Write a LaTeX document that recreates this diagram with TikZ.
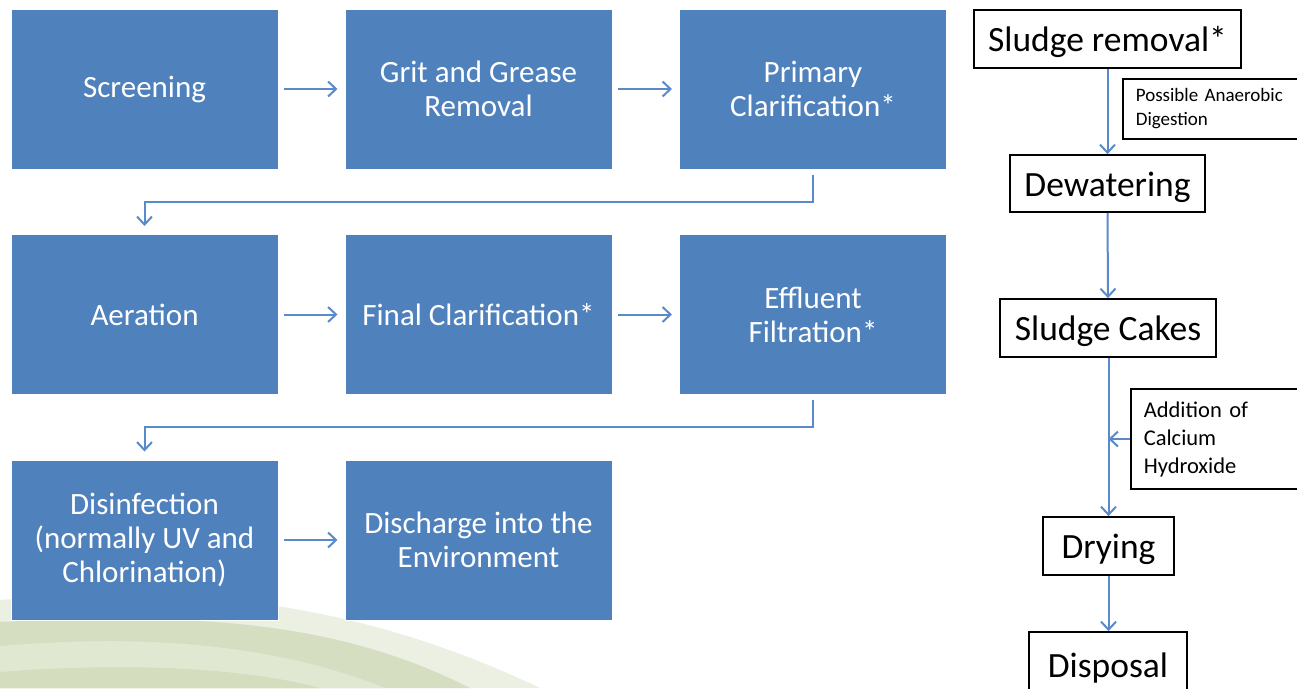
\documentclass[tikz,border=0pt]{standalone}
\usepackage{fontspec}
\setmainfont{Carlito}
\usetikzlibrary{arrows.meta,calc}
\definecolor{boxblue}{HTML}{4F81BD}
\definecolor{arrblue}{HTML}{5A8ACB}
\definecolor{gP}{HTML}{ECF0E2}
\definecolor{gD}{HTML}{D6DEC1}
\definecolor{gL}{HTML}{E1E8D2}
\definecolor{gB}{HTML}{D4DDBD}
\tikzset{
  bluebox/.style={rectangle,fill=boxblue,draw=white,line width=1pt,text=white,
    font=\fontsize{31}{34}\selectfont,align=center,minimum width=267,minimum height=160,inner sep=0pt},
  blackbox/.style={rectangle,draw=black,line width=1.8pt,fill=white,text=black,
    font=\fontsize{35.5}{40}\selectfont,inner sep=0pt,text height=30pt,text depth=5pt},
  notebox/.style={rectangle,draw=black,line width=1.6pt,fill=white,text=black,align=left,inner xsep=13pt,inner ysep=0pt},
  barr/.style={draw=arrblue,line width=2pt,-{Straight Barb[length=8pt,width=15pt,line width=2pt]}}
}
\begin{document}
\begin{tikzpicture}[x=1pt,y=-1pt]
\useasboundingbox (0,0) rectangle (1297,688);
\fill[white] (0,0) rectangle (1297,688);
% background swoosh
\fill[gP] (0,600) .. controls (150,588) and (330,588) .. (540,688) -- (0,688) -- cycle;
\fill[gD] (0,622) .. controls (200,612) and (340,622) .. (470,688) -- (0,688) -- cycle;
\fill[gL] (0,646) .. controls (120,636) and (260,638) .. (385,688) -- (0,688) -- cycle;
\fill[gB] (0,672) .. controls (100,664) and (230,664) .. (320,688) -- (0,688) -- cycle;
% blue boxes
\node[bluebox] (scr) at (144.5,89) {Screening};
\node[bluebox] (grit) at (478.5,89) {Grit and Grease\\Removal};
\node[bluebox] (prim) at (813,89) {Primary\\Clarification*};
\node[bluebox] (aer) at (144.5,314.5) {Aeration};
\node[bluebox] (fin) at (478.5,314.5) {Final Clarification*};
\node[bluebox] (eff) at (813,314.5) {Effluent\\Filtration*};
\node[bluebox] (dis) at (144.5,540) {Disinfection\\(normally UV and\\Chlorination)};
\node[bluebox] (env) at (478.5,540) {Discharge into the\\Environment};
% blue arrows
\draw[barr] ($(scr.east)+(5,0)$) -- ($(grit.west)+(-7,0)$);
\draw[barr] ($(grit.east)+(5,0)$) -- ($(prim.west)+(-7,0)$);
\draw[barr] ($(aer.east)+(5,0)$) -- ($(fin.west)+(-7,0)$);
\draw[barr] ($(fin.east)+(5,0)$) -- ($(eff.west)+(-7,0)$);
\draw[barr] ($(dis.east)+(5,0)$) -- ($(env.west)+(-7,0)$);
\draw[barr] ($(prim.south)+(0,5)$) -- ++(0,27) -| ($(aer.north)+(0,-8)$);
\draw[barr] ($(eff.south)+(0,5)$) -- ++(0,27) -| ($(dis.north)+(0,-8)$);
% right column
\node[blackbox,minimum width=267,minimum height=58] (srem) at (1107.5,39) {Sludge removal*};
\node[blackbox,minimum width=195,minimum height=57] (dew) at (1107.5,183.5) {Dewatering};
\node[blackbox,minimum width=216,minimum height=58] (cake) at (1108,328) {Sludge Cakes};
\node[blackbox,minimum width=131,minimum height=58] (dry) at (1108.5,546) {Drying};
\node[blackbox,minimum width=158,minimum height=66] (disp) at (1108,665) {Disposal};
\node[notebox,anchor=west,text width=190,minimum height=60,font=\fontsize{19}{24}\selectfont] (pad) at (1122,109) {Possible Anaerobic\\Digestion};
\node[notebox,anchor=west,text width=190,minimum height=100,font=\fontsize{22.5}{28}\selectfont] (add) at (1130,439) {Addition of\\Calcium\\Hydroxide};
\draw[barr] (srem.south) -- (dew.north);
\draw[barr] (dew.south) -- (cake.north);
\draw[barr] (cake.south -| dry.north) -- (dry.north);
\draw[barr] (dry.south) -- (dry.south |- disp.north);
\draw[barr] (add.west) -- (add.west -| dry.north);
\end{tikzpicture}
\end{document}
